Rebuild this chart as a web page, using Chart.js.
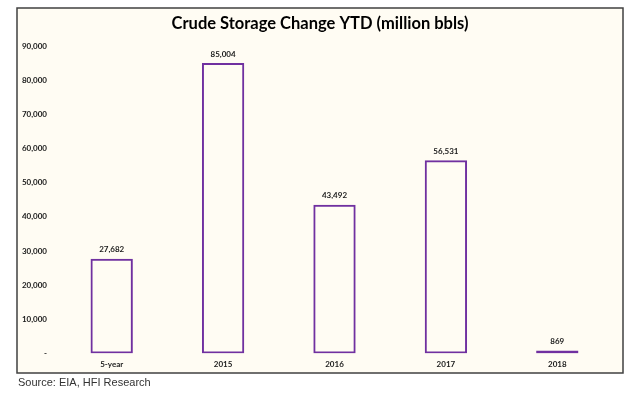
<!DOCTYPE html>
<html><head><meta charset="utf-8">
<script src="https://cdn.jsdelivr.net/npm/chart.js@4"></script>
<style>html,body{margin:0;padding:0;background:#fff;}#wrap{width:640px;height:396px;position:relative;}</style>
</head><body><div id="wrap"><canvas id="c" width="640" height="396"></canvas></div>
<script>
const categories = ["5-year", "2015", "2016", "2017", "2018"];
const storageChange = [27682, 85004, 43492, 56531, 869];
const yTicks = [0, 10000, 20000, 30000, 40000, 50000, 60000, 70000, 80000, 90000];
const titleText = "Crude Storage Change YTD (million bbls)";
const sourceText = "Source: EIA, HFI Research";

const fmt = v => v === 0 ? "-" : v.toLocaleString("en-US");

const frame = {
  id: "frame",
  beforeDraw(chart) {
    const ctx = chart.ctx;
    ctx.save();
    ctx.fillStyle = "#ffffff";
    ctx.fillRect(0, 0, 640, 396);
    ctx.fillStyle = "#FFFCF3";
    ctx.fillRect(17, 8, 606, 365);
    ctx.strokeStyle = "#404040";
    ctx.lineWidth = 1.5;
    ctx.strokeRect(17, 8, 606, 365);
    ctx.fillStyle = "#000";
    ctx.font = "bold 16.5px Lato, 'Open Sans', sans-serif";
    ctx.textAlign = "center";
    ctx.textBaseline = "middle";
    ctx.fillText(titleText, 320, 24);
    ctx.font = "11px 'Liberation Sans', Arial, sans-serif";
    ctx.fillStyle = "#333";
    ctx.textAlign = "left";
    ctx.fillText(sourceText, 18, 383);
    ctx.restore();
  },
  afterDatasetsDraw(chart) {
    const ctx = chart.ctx;
    const meta = chart.getDatasetMeta(0);
    ctx.save();
    ctx.font = "bold 8px Lato, 'Open Sans', sans-serif";
    ctx.fillStyle = "#1a1a1a";
    ctx.textAlign = "center";
    ctx.textBaseline = "bottom";
    meta.data.forEach((bar, i) => {
      ctx.fillText(fmt(chart.data.datasets[0].data[i]), bar.x, bar.y - 5);
    });
    ctx.restore();
  }
};

new Chart(document.getElementById("c"), {
  type: "bar",
  data: {
    labels: categories,
    datasets: [{
      data: storageChange,
      backgroundColor: "rgba(0,0,0,0)",
      borderColor: "#7030A0",
      borderWidth: 2,
      borderSkipped: false,
      categoryPercentage: 1,
      barPercentage: 0.38
    }]
  },
  options: {
    responsive: false,
    animation: false,
    layout: { padding: { left: 0, right: 27, top: 46, bottom: 21 } },
    plugins: { legend: { display: false }, title: { display: false }, tooltip: { enabled: false } },
    scales: {
      x: {
        grid: { display: false, drawTicks: false },
        border: { display: false },
        ticks: { color: "#1a1a1a", font: { family: "Lato, 'Open Sans', sans-serif", size: 8, weight: "bold" }, padding: 6 }
      },
      y: {
        min: 0, max: 90000,
        afterFit(s) { s.width = 56; },
        afterBuildTicks(s) { s.ticks = yTicks.map(v => ({ value: v })); },
        grid: { display: false, drawTicks: false },
        border: { display: false },
        ticks: { color: "#1a1a1a", font: { family: "Lato, 'Open Sans', sans-serif", size: 8, weight: "bold" }, padding: 9, callback: v => fmt(v) }
      }
    }
  },
  plugins: [frame]
});
</script></body></html>
